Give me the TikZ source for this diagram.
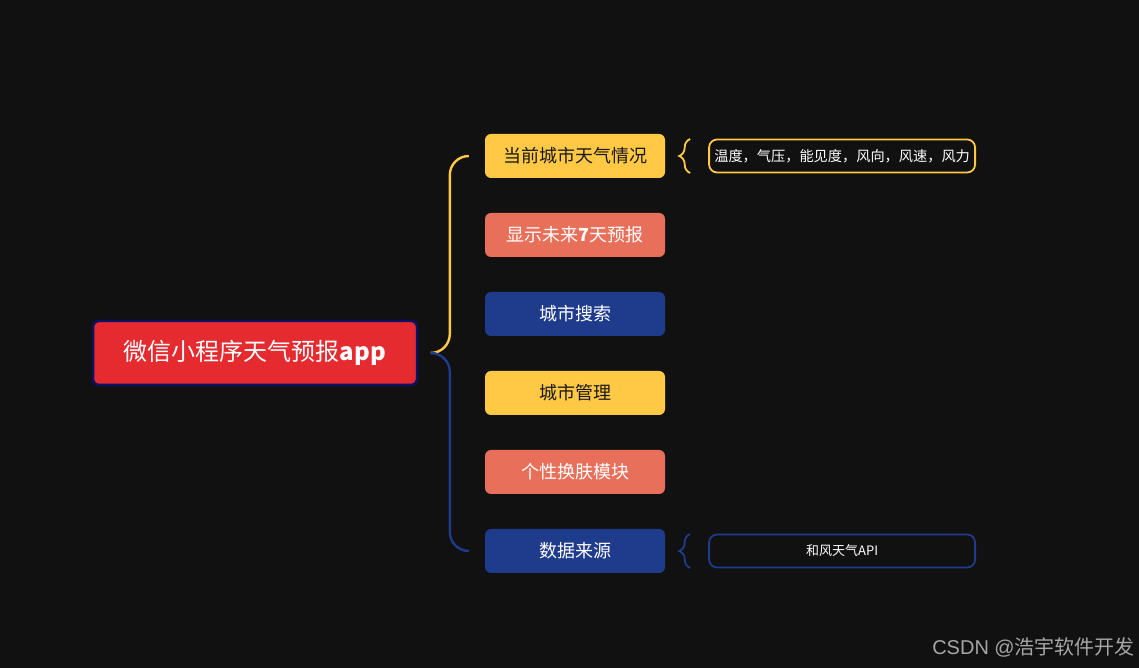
\documentclass[tikz,border=0pt]{standalone}
\usepackage{fontspec}
\setmainfont{Noto Sans CJK SC}
\newfontfamily\markfont{Liberation Sans}
\usepackage{xcolor}
\usetikzlibrary{positioning,decorations.pathreplacing}
\definecolor{bg}{HTML}{111111}
\definecolor{yel}{HTML}{FFC845}
\definecolor{sal}{HTML}{E8705A}
\definecolor{blu}{HTML}{1F3B8C}
\definecolor{titred}{HTML}{E52B30}
\definecolor{navy}{HTML}{0C1260}
\definecolor{mark}{HTML}{A6A6A6}

\begin{document}
\begin{tikzpicture}[x=1pt, y=1pt,
  node distance=34.6pt,
  root/.style={draw=navy, line width=2.5pt, fill=titred, rounded corners=6pt,
               text=white, font=\fontsize{24}{28}\selectfont,
               minimum width=324pt, minimum height=64pt},
  topic/.style={rounded corners=6pt, inner sep=0pt, font=\fontsize{18}{22}\selectfont,
                minimum width=180pt, minimum height=44pt},
  detail/.style={draw, line width=1.8pt, rounded corners=8pt, fill=bg, text=white,
                 inner sep=0pt, minimum width=266pt, minimum height=33pt},
  bar/.style={line width=2.4pt, rounded corners=19pt},
  curly/.style={line width=1.8pt, decorate, decoration={brace, amplitude=11pt}}]
\fill[bg] (0,0) rectangle (1139,668);
\useasboundingbox (0,0) rectangle (1139,668);

\node[root] (app) at (255,315) {微信小程序天气预报\textbf{app}};

\node[topic, fill=yel, text=black!90] (cur) at (575,512) {当前城市天气情况};
\node[topic, fill=sal, text=white, below=of cur] (week) {显示未来\textbf{7}天预报};
\node[topic, fill=blu, text=white, below=of week] (search) {城市搜索};
\node[topic, fill=yel, text=black!90, below=of search] (manage) {城市管理};
\node[topic, fill=sal, text=white, below=of manage] (skin) {个性换肤模块};
\node[topic, fill=blu, text=white, below=of skin] (src) {数据来源};

\node[detail, draw=yel, font=\fontsize{14.2}{17}\selectfont, right=43pt of cur] (vals) {温度，气压，能见度，风向，风速，风力};
\node[detail, draw=blu, font=\fontsize{13}{16}\selectfont, right=43pt of src] (api) {和风天气API};

% main brace
\coordinate (hub) at ([xshift=14pt]app.east);
\draw[bar, yel] (hub) -| ([xshift=-35pt]cur.west) -- ([xshift=-16pt]cur.west);
\draw[bar, blu] (hub) -| ([xshift=-35pt]src.west) -- ([xshift=-16pt]src.west);

% small braces
\foreach \n/\c in {vals/yel,api/blu}
  \draw[curly, \c] ([xshift=-18pt,yshift=-17pt]\n.west) -- ([xshift=-18pt,yshift=17pt]\n.west);

\node[anchor=east, text=mark, font=\fontsize{20}{24}\selectfont, inner sep=0pt] (wm) at (1135,21) {{\markfont CSDN @}浩宇软件开发};
\end{tikzpicture}
\end{document}
